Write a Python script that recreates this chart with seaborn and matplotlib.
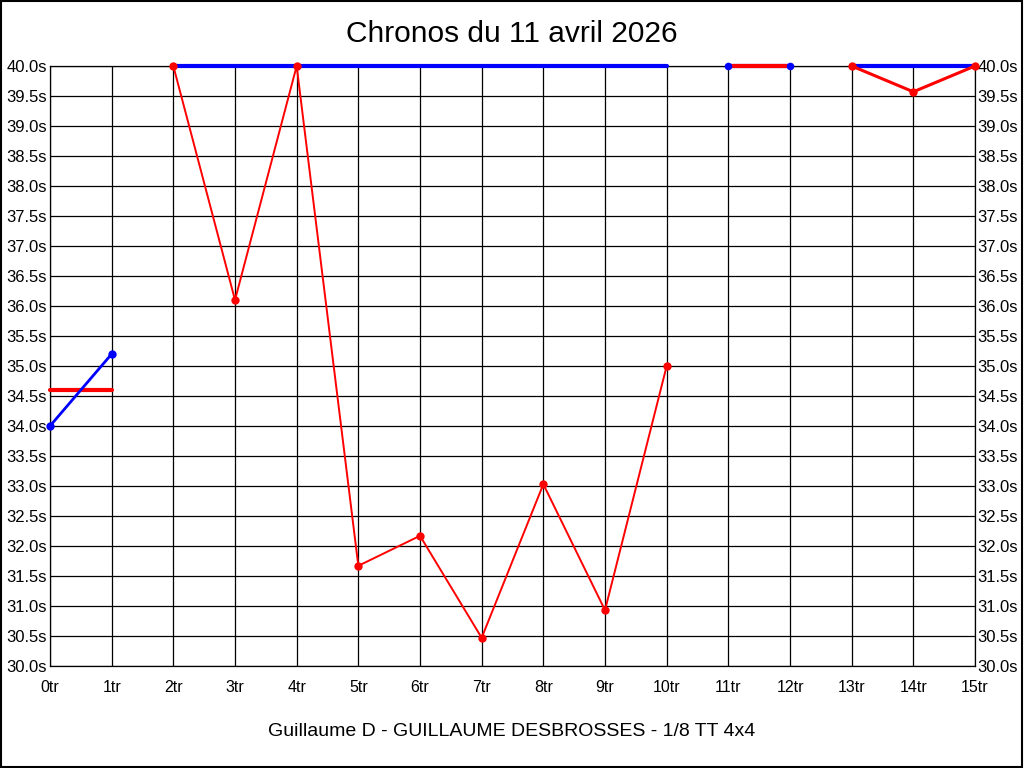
import matplotlib
matplotlib.use('Agg')
import matplotlib.pyplot as plt
import seaborn as sns
import pandas as pd

# Lap times (seconds), split into drawn segments
laps = list(range(16))
tick_labels_x = [f'{i}tr' for i in laps]
y_ticks = [30.0 + 0.5 * i for i in range(21)]

# red series
red_flat_0 = ([0, 1], [34.6, 34.6])
red_main = ([2, 3, 4, 5, 6, 7, 8, 9, 10],
            [40.0, 36.1, 40.0, 31.67, 32.17, 30.47, 33.03, 30.93, 35.0])
red_flat_11 = ([11, 12], [40.0, 40.0])
red_end = ([13, 14, 15], [40.0, 39.57, 40.0])

# blue series
blue_start = ([0, 1], [34.0, 35.2])
blue_mid = ([2, 10], [40.0, 40.0])
blue_11 = ([11, 12], [40.0, 40.0])
blue_end = ([13, 15], [40.0, 40.0])

RED = '#ff0000'
BLUE = '#0000ff'

sns.set_style('white')
plt.rcParams['font.family'] = ['Liberation Sans', 'DejaVu Sans']

fig = plt.figure(figsize=(10.24, 7.68), dpi=100)
ax = fig.add_axes([50 / 1024, 1 - 666 / 768, 925 / 1024, 600 / 768])


def seg(data, color, lw, marker=None, ms=0, z=2):
    df = pd.DataFrame({'lap': data[0], 'time': data[1]})
    sns.lineplot(data=df, x='lap', y='time', color=color, linewidth=lw,
                 marker=marker, markersize=ms, markeredgewidth=0,
                 estimator=None, sort=False, ax=ax, zorder=z, clip_on=False)


seg(red_flat_0, RED, 3, z=3)
seg(blue_start, BLUE, 2, marker='o', ms=6, z=4)
seg(blue_mid, BLUE, 3, z=3)
seg(blue_end, BLUE, 3, z=3)
seg(blue_11, BLUE, 3, z=3)
seg(red_flat_11, RED, 3, z=4)
seg(red_main, RED, 1.4, marker='o', ms=6, z=5)
seg(red_end, RED, 2.2, marker='o', ms=6, z=5)
sns.scatterplot(x=blue_11[0], y=blue_11[1], color=BLUE, s=30, linewidth=0,
                ax=ax, zorder=6, clip_on=False)

ax.set_xlim(0, 15)
ax.set_ylim(30, 40)
ax.set_xticks(laps)
ax.set_xticklabels(tick_labels_x, fontsize=11.5)
ax.set_yticks(y_ticks)
ax.set_yticklabels([f'{v:.1f}s' for v in y_ticks], fontsize=12)
ax.tick_params(axis='both', length=0, colors='black')
ax.tick_params(axis='x', pad=10)
ax.tick_params(axis='y', pad=2, right=True, labelright=True)
ax.grid(True, color='black', linewidth=0.9)
ax.set_axisbelow(True)
for s in ax.spines.values():
    s.set_color('black')
    s.set_linewidth(0.9)
ax.set_xlabel('')
ax.set_ylabel('')

fig.text(0.5, 1 - 34 / 768, 'Chronos du 11 avril 2026', ha='center', va='center',
         fontsize=21.5, color='black')
fig.text(0.5, 1 - 732 / 768, 'Guillaume D - GUILLAUME DESBROSSES - 1/8 TT 4x4',
         ha='center', va='center', fontsize=14, color='black')

# frame around the whole picture
fig.patches.append(plt.Rectangle((0.0005, 0.0007), 0.998, 0.998, transform=fig.transFigure,
                                 fill=False, edgecolor='black', linewidth=1.5))

fig.savefig('out.png', dpi=100)
